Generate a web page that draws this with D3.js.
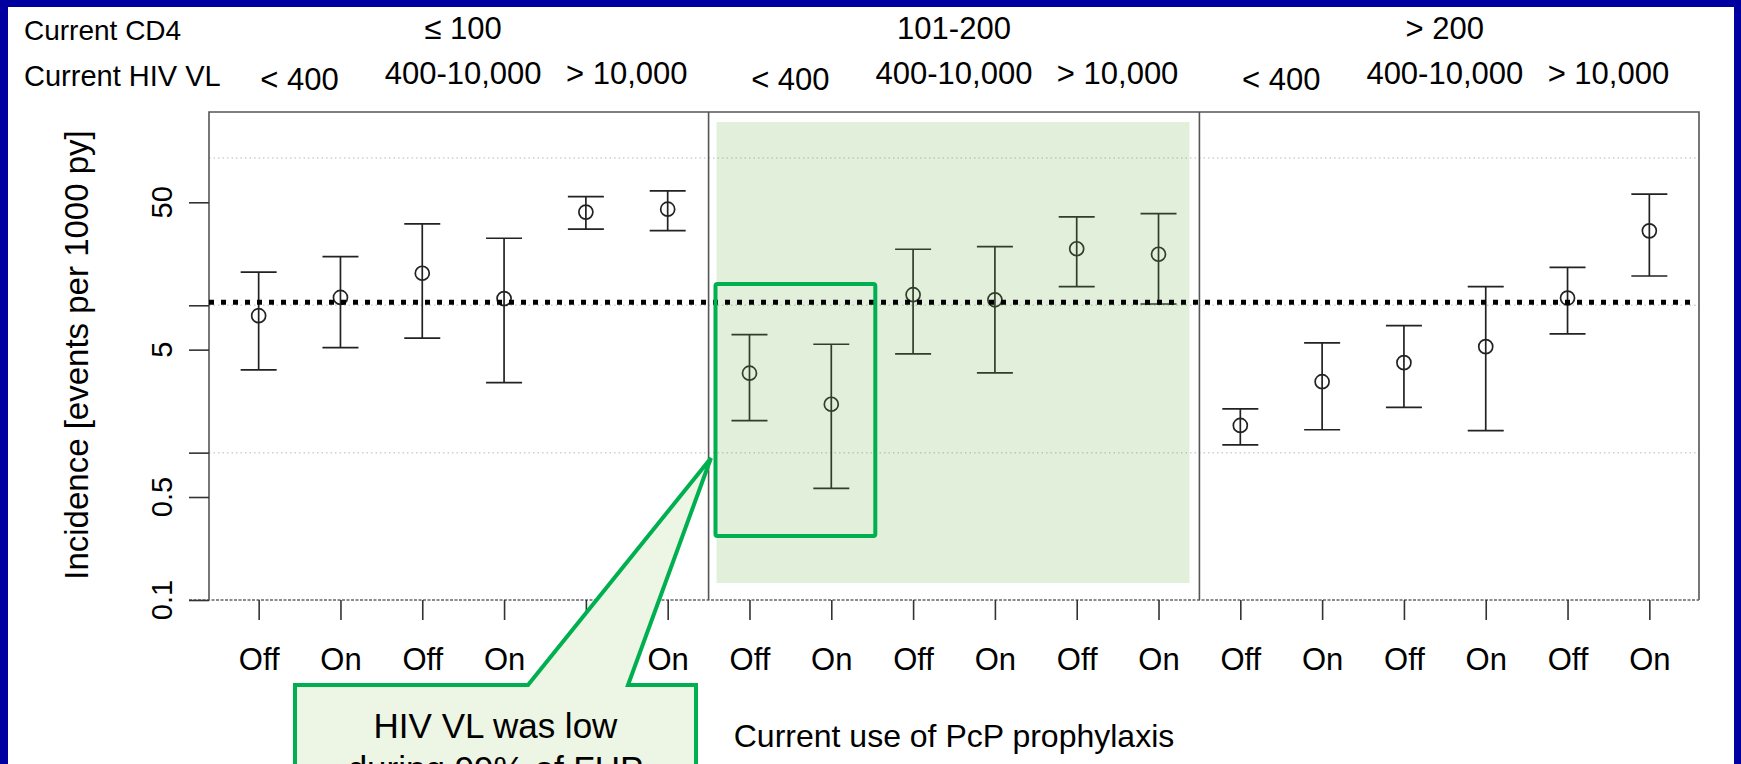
<!DOCTYPE html>
<html>
<head>
<meta charset="utf-8">
<script src="https://cdn.jsdelivr.net/npm/d3@7"></script>
<style>
  html, body { margin: 0; padding: 0; background: #0000A0; }
  svg { display: block; }
  text { font-family: "Liberation Sans", Arial, sans-serif; fill: #000; }
</style>
</head>
<body>
<svg id="chart" width="1741" height="764"></svg>
<script>
// ---------------- DATA ----------------
const categories = ["Off","On","Off","On","Off","On","Off","On","Off","On","Off","On","Off","On","Off","On","Off","On"];
const cd4Groups = ["\u2264 100", "101-200", "> 200"];
const vlGroups = ["< 400", "400-10,000", "> 10,000"];
const estimate = [8.5, 11.3, 16.5, 11.1, 42.9, 44.9,  3.46, 2.13, 11.8, 10.9, 24.2, 22.2,  1.53, 3.03, 4.08, 5.24, 11.2, 32.0];
const lowerCI  = [3.64, 5.16, 5.98, 2.99, 32.9, 32.1,  1.65, 0.573, 4.68, 3.48, 13.4, 10.2,  1.13, 1.43, 2.03, 1.41, 6.40, 15.8];
const upperCI  = [16.8, 21.4, 35.7, 28.5, 54.7, 59.8,  6.32, 5.44, 24.0, 25.0, 39.8, 41.9,  1.98, 5.55, 7.28, 13.4, 18.1, 56.8];
const overallRate = [10.5];
const yTickValues = [0.1, 0.5, 1, 5, 10, 50];
const yTickLabels = ["0.1", "0.5", "", "5", "", "50"];
const gridValues = [100, 10, 1];
const yTitle = "Incidence [events per 1000 py]";
const xTitle = "Current use of PcP prophylaxis";
const calloutLines = ["HIV VL was low", "during 99% of FUP"];

// ---------------- SETUP ----------------
const svg = d3.select("#chart");
const W = 1741, H = 764;
const plot = {left: 209, right: 1699, top: 112, bottom: 600};

svg.append("rect").attr("x", 0).attr("y", 0).attr("width", W).attr("height", H).attr("fill", "#0000A0");
svg.append("rect").attr("x", 8).attr("y", 7).attr("width", 1726).attr("height", 800).attr("fill", "#ffffff");

const idx = d3.range(categories.length);
const x = d3.scaleLinear().domain([-0.607, 17.607]).range([plot.left, plot.right]);
const y = d3.scaleLog().domain([0.1, 205]).range([plot.bottom, plot.top]);

// gridlines
svg.append("g").selectAll("line").data(gridValues).join("line")
  .attr("x1", plot.left).attr("x2", plot.right)
  .attr("y1", d => y(d)).attr("y2", d => y(d))
  .attr("stroke", "#cfcfcf").attr("stroke-width", 1.5).attr("stroke-dasharray", "1.5,3");

// plot frame (left, top, right) and bottom dashed line
svg.append("path")
  .attr("d", `M${plot.left},${plot.bottom}V${plot.top}H${plot.right}V${plot.bottom}`)
  .attr("fill", "none").attr("stroke", "#555").attr("stroke-width", 1.6);
svg.append("line")
  .attr("x1", plot.left - 20).attr("x2", plot.right)
  .attr("y1", y(0.1)).attr("y2", y(0.1))
  .attr("stroke", "#666").attr("stroke-width", 1.6).attr("stroke-dasharray", "3,1.5");

// panel dividers
const dividers = [5.5, 11.5];
svg.append("g").selectAll("line").data(dividers).join("line")
  .attr("x1", d => x(d)).attr("x2", d => x(d))
  .attr("y1", plot.top).attr("y2", plot.bottom)
  .attr("stroke", "#555").attr("stroke-width", 1.6);

// y axis
const yAxis = d3.axisLeft(y).tickValues(yTickValues).tickSize(20).tickFormat("");
const gy = svg.append("g").attr("transform", `translate(${plot.left},0)`).call(yAxis);
gy.select(".domain").remove();
gy.selectAll(".tick line").attr("stroke", "#333").attr("stroke-width", 1.6);
svg.append("g").selectAll("text").data(yTickValues).join("text")
  .attr("transform", d => `translate(162,${y(d)}) rotate(-90)`)
  .attr("text-anchor", "middle").attr("dy", "0.36em")
  .attr("font-size", 29)
  .text((d, i) => yTickLabels[i]);

svg.append("text")
  .attr("transform", `translate(76,355) rotate(-90)`)
  .attr("text-anchor", "middle").attr("dy", "0.36em")
  .attr("font-size", 33)
  .text(yTitle);

// x axis
const xAxis = d3.axisBottom(x).tickValues(idx).tickSize(20).tickFormat(d => categories[d]);
const gx = svg.append("g").attr("transform", `translate(0,${plot.bottom})`).call(xAxis);
gx.select(".domain").remove();
gx.selectAll(".tick line").attr("stroke", "#333").attr("stroke-width", 1.6);
gx.selectAll(".tick text")
  .attr("y", 70).attr("dy", 0)
  .attr("font-size", 31)
  .attr("font-family", "Liberation Sans, Arial, sans-serif")
  .attr("fill", "#000");

svg.append("text")
  .attr("x", 954).attr("y", 747)
  .attr("text-anchor", "middle").attr("font-size", 32)
  .text(xTitle);

// error bars
const capHalf = 18;
const gBars = svg.append("g").attr("stroke", "#222").attr("stroke-width", 1.7).attr("fill", "none");
gBars.selectAll("line.v").data(idx).join("line").attr("class", "v")
  .attr("x1", d => x(d)).attr("x2", d => x(d))
  .attr("y1", d => y(lowerCI[d])).attr("y2", d => y(upperCI[d]));
gBars.selectAll("line.u").data(idx).join("line").attr("class", "u")
  .attr("x1", d => x(d) - capHalf).attr("x2", d => x(d) + capHalf)
  .attr("y1", d => y(upperCI[d])).attr("y2", d => y(upperCI[d]));
gBars.selectAll("line.l").data(idx).join("line").attr("class", "l")
  .attr("x1", d => x(d) - capHalf).attr("x2", d => x(d) + capHalf)
  .attr("y1", d => y(lowerCI[d])).attr("y2", d => y(lowerCI[d]));
gBars.selectAll("circle").data(idx).join("circle")
  .attr("cx", d => x(d)).attr("cy", d => y(estimate[d])).attr("r", 7);

// green highlight over middle panel
svg.append("rect")
  .attr("x", x(5.5) + 8).attr("y", plot.top + 10)
  .attr("width", x(11.5) - x(5.5) - 18).attr("height", 583 - plot.top - 10)
  .attr("fill", "#70AD47").attr("fill-opacity", 0.2);

// overall reference line
svg.append("g").selectAll("line").data(overallRate).join("line")
  .attr("x1", plot.left).attr("x2", plot.right - 8)
  .attr("y1", d => y(d)).attr("y2", d => y(d))
  .attr("stroke", "#000").attr("stroke-width", 5).attr("stroke-dasharray", "5,7");

// green box around first two points of middle panel
svg.append("rect")
  .attr("x", x(6) - 34).attr("y", 284)
  .attr("width", x(7) - x(6) + 78).attr("height", 252)
  .attr("rx", 2)
  .attr("fill", "none").attr("stroke", "#00B050").attr("stroke-width", 4);

// callout with pointer
const tip = [711, 458];
const box = {l: 295, r: 696, t: 685, b: 820};
svg.append("path")
  .attr("d", `M${box.l},${box.t}L528,${box.t}L${tip[0]},${tip[1]}L628,${box.t}L${box.r},${box.t}L${box.r},${box.b}L${box.l},${box.b}Z`)
  .attr("fill", "#EDF5E4").attr("stroke", "#00B050").attr("stroke-width", 4).attr("stroke-linejoin", "miter");
svg.append("g").selectAll("text").data(calloutLines).join("text")
  .attr("x", (box.l + box.r) / 2).attr("y", (d, i) => 738 + i * 43)
  .attr("text-anchor", "middle").attr("font-size", 35)
  .text(d => d);

// header rows
svg.append("text").attr("x", 24).attr("y", 40).attr("font-size", 28).text("Current CD4");
svg.append("text").attr("x", 24).attr("y", 86).attr("font-size", 29).text("Current HIV VL");
svg.append("g").selectAll("text").data(cd4Groups).join("text")
  .attr("x", (d, i) => x(i * 6 + 2.5)).attr("y", 39)
  .attr("text-anchor", "middle").attr("font-size", 31)
  .text(d => d);
const vlCells = d3.range(9).map(k => ({k, label: vlGroups[k % 3]}));
svg.append("g").selectAll("text").data(vlCells).join("text")
  .attr("x", d => x(d.k * 2 + 0.5)).attr("y", d => d.k % 3 === 0 ? 90 : 84)
  .attr("text-anchor", "middle").attr("font-size", 31)
  .text(d => d.label);
</script>
</body>
</html>
